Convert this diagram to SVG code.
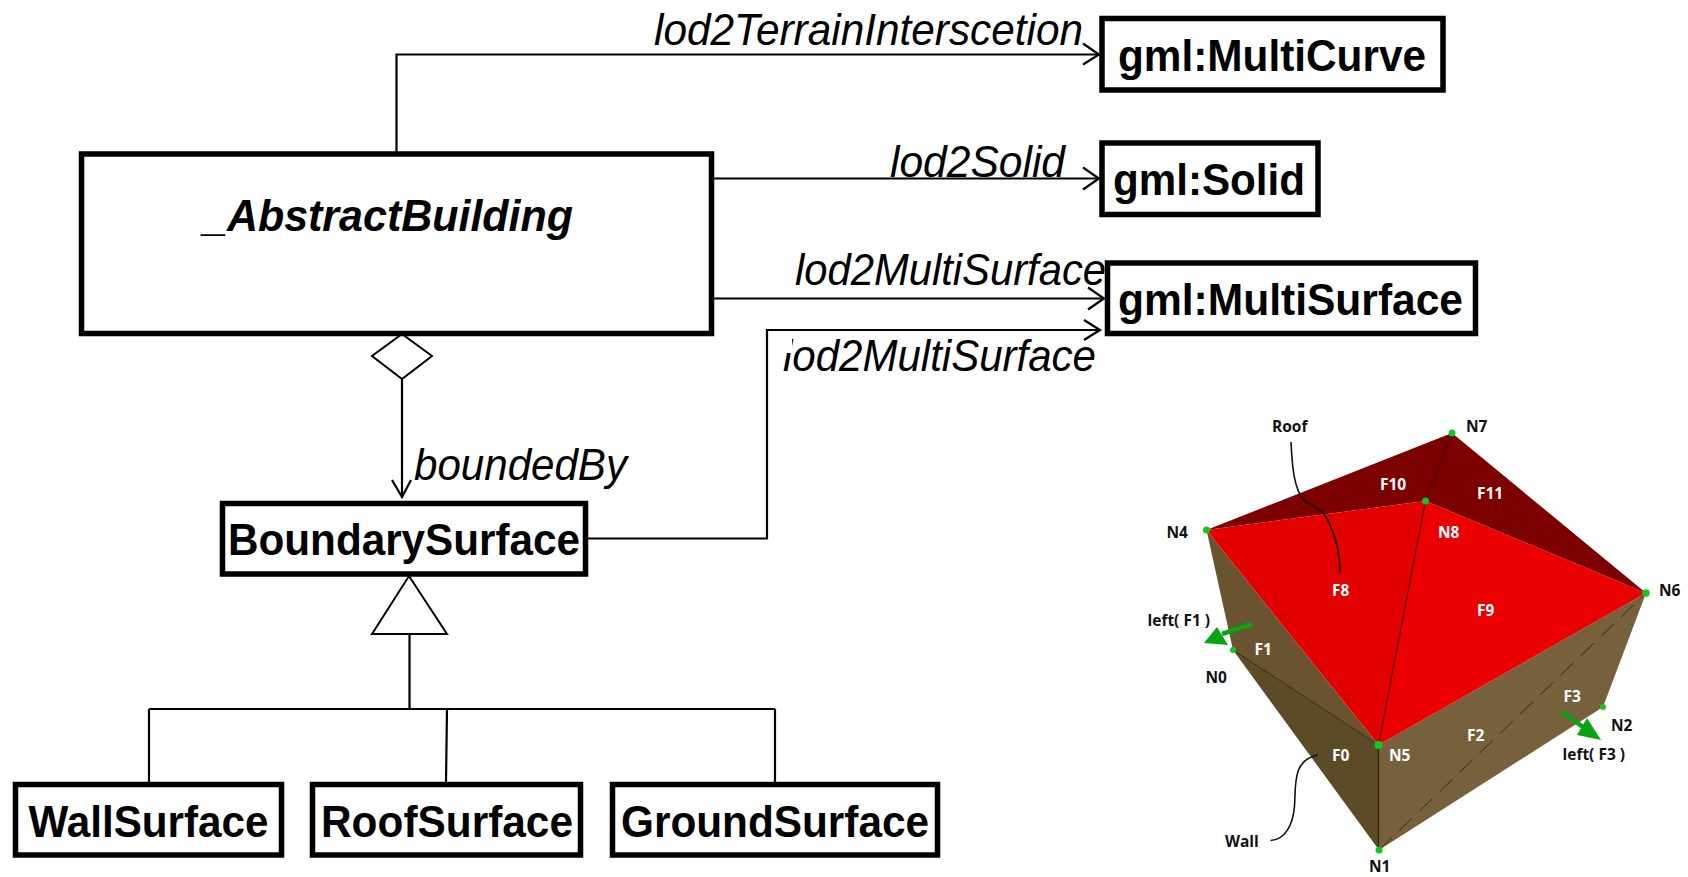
<svg xmlns="http://www.w3.org/2000/svg" width="1688" height="877" viewBox="0 0 1688 877">
<style>
.box{fill:#fff;stroke:#000;stroke-width:5.500}
.c{fill:none;stroke:#000;stroke-width:2.2}
.h{fill:#fff;stroke:#000;stroke-width:2}
.b{font-family:"Liberation Sans",Arial,sans-serif;font-weight:700;font-size:44px;fill:#000}
.i{font-family:"Liberation Sans",Arial,sans-serif;font-style:italic;font-size:44px;fill:#000}
.k{font-family:"Open Sans","Noto Sans",sans-serif;font-weight:700;font-size:15.500px;fill:#111}
.w{font-family:"Open Sans","Noto Sans",sans-serif;font-weight:700;font-size:15.500px;fill:#fff}
.fl{fill:none;stroke:#111;stroke-width:1.6}
.dot{fill:#12c81e}
.g{fill:#0ba313}
</style>
<rect width="1688" height="877" fill="#fff"/>
<g id="connectors">
<path class="c" d="M396.500 154V54.500H1099"/>
<path class="c" d="M1083 43.500L1099 54.500L1083 64.500"/>
<path class="c" d="M711 178.500H1099"/>
<path class="c" d="M1083 167.500L1099 178.500L1083 189.500"/>
<path class="c" d="M711 298.500H1104"/>
<path class="c" d="M1088 287.500L1104 298.500L1088 309.500"/>
<path class="c" d="M587 538.500H767V330H1100"/>
<path class="c" d="M1084 320L1100 330L1084 340"/>
<path class="c" d="M402 378V496"/>
<path class="c" d="M392 480L402 497L411 480"/>
<polygon class="h" points="402,334 432,356 402,379 372,356"/>
<polygon class="h" points="409,576 447,634 372,634"/>
<path class="c" d="M409.500 634V709M149 709H775M149 709V782M447 709L446 782M775 709V782"/>
<text class="i" x="654" y="45" textLength="429" lengthAdjust="spacingAndGlyphs">lod2TerrainInterscetion</text>
<text class="i" x="890" y="177" textLength="175" lengthAdjust="spacingAndGlyphs">lod2Solid</text>
<text class="i" x="795" y="285" textLength="311" lengthAdjust="spacingAndGlyphs">lod2MultiSurface</text>
<text class="i" x="783" y="371" textLength="313" lengthAdjust="spacingAndGlyphs">lod2MultiSurface</text>
<rect x="780" y="335" width="12" height="18" fill="#fff"/>
<text class="i" x="414" y="480" textLength="213" lengthAdjust="spacingAndGlyphs">boundedBy</text>
</g>
<g id="abstract-building"><rect class="box" x="81.500" y="154" width="630" height="179.500"/>
<text class="b" x="203" y="231" font-style="italic" textLength="370" lengthAdjust="spacingAndGlyphs">_AbstractBuilding</text></g>
<g id="gml-multicurve"><rect class="box" x="1102" y="18.500" width="341" height="71.500"/>
<text class="b" x="1118" y="71" textLength="308" lengthAdjust="spacingAndGlyphs">gml:MultiCurve</text></g>
<g id="gml-solid"><rect class="box" x="1102" y="143" width="216" height="71.500"/>
<text class="b" x="1113" y="195" textLength="192" lengthAdjust="spacingAndGlyphs">gml:Solid</text></g>
<g id="gml-multisurface"><rect class="box" x="1107.500" y="263" width="368" height="70.500"/>
<text class="b" x="1118" y="314.500" textLength="345" lengthAdjust="spacingAndGlyphs">gml:MultiSurface</text></g>
<g id="boundary-surface"><rect class="box" x="222.500" y="503.500" width="363" height="70.500"/>
<text class="b" x="228" y="554.500" textLength="352" lengthAdjust="spacingAndGlyphs">BoundarySurface</text></g>
<g id="wall-surface"><rect class="box" x="15.500" y="784.500" width="266" height="70.500"/>
<text class="b" x="28.500" y="836.500" textLength="240" lengthAdjust="spacingAndGlyphs">WallSurface</text></g>
<g id="roof-surface"><rect class="box" x="312.500" y="784.500" width="268" height="70.500"/>
<text class="b" x="321" y="836.500" textLength="252" lengthAdjust="spacingAndGlyphs">RoofSurface</text></g>
<g id="ground-surface"><rect class="box" x="612.500" y="784.500" width="325" height="70.500"/>
<text class="b" x="621" y="836.500" textLength="308" lengthAdjust="spacingAndGlyphs">GroundSurface</text></g>
<g id="building-model">
<polygon fill="#6a5430" points="1206.500,530 1233,650 1378.500,745"/>
<polygon fill="#5d4b27" points="1233,650 1379,850 1378.500,745"/>
<polygon fill="#77603c" points="1378.500,745 1379,850 1603,707 1646,593"/>
<polygon fill="#7d0000" points="1206.500,530 1452,433 1425.500,501"/>
<polygon fill="#7d0000" points="1452,433 1646,593 1425.500,501"/>
<polygon fill="#e30000" points="1206.500,530 1425.500,501 1378.500,745"/>
<polygon fill="#ea0000" points="1425.500,501 1646,593 1378.500,745"/>
<path d="M1233 650L1378.500 745" stroke="#33260f" stroke-width="1" fill="none"/>
<path d="M1378.500 745V850" stroke="#2d2210" stroke-width="1.200" fill="none"/>
<path d="M1425.500 501L1378.500 745M1425.500 501L1452 433" stroke="#4d0000" stroke-width="1.100" fill="none"/>
<path d="M1379 850L1646 593" stroke="#3a2c15" stroke-width="1" stroke-dasharray="18 10" fill="none"/>
<path class="fl" d="M1291 442C1292 465 1294 490 1304 500C1312 508 1322 505 1330 525C1338 542 1340 558 1340 573"/>
<path class="fl" d="M1270.500 840.500C1285 840 1293 825 1294.500 806C1296 785 1292 760 1318 755"/>
<circle class="dot" cx="1206.500" cy="530" r="3.500"/><circle class="dot" cx="1452" cy="433" r="3.500"/><circle class="dot" cx="1425.500" cy="501" r="3.500"/><circle class="dot" cx="1646" cy="593" r="3.800"/><circle class="dot" cx="1378.500" cy="745" r="4"/><circle class="dot" cx="1379" cy="850" r="3.500"/><circle class="dot" cx="1603" cy="707" r="3"/><circle class="dot" cx="1233" cy="650" r="3"/>
<path d="M1252 624L1222 634" stroke="#0ba313" stroke-width="4.500" fill="none"/><polygon class="g" points="1204,643 1217,627 1228,645"/>
<path d="M1561 711L1583 727" stroke="#0ba313" stroke-width="4.500" fill="none"/><polygon class="g" points="1601,740 1587,718 1577,735"/>
<text class="k" x="1272" y="432">Roof</text><text class="k" x="1466" y="432">N7</text><text class="k" x="1166.500" y="537.500">N4</text><text class="k" x="1659" y="596">N6</text>
<text class="k" x="1147.500" y="625.500">left( F1 )</text><text class="k" x="1205.500" y="683">N0</text><text class="k" x="1611" y="731">N2</text><text class="k" x="1562.500" y="760">left( F3 )</text><text class="k" x="1225" y="846.500">Wall</text><text class="k" x="1369" y="872">N1</text>
<text class="w" x="1380" y="489.500">F10</text><text class="w" x="1477" y="498.500">F11</text><text class="w" x="1438" y="537.500">N8</text><text class="w" x="1332" y="596">F8</text><text class="w" x="1477" y="615.500">F9</text><text class="w" x="1254.500" y="654.500">F1</text><text class="w" x="1563.500" y="702">F3</text><text class="w" x="1467" y="741">F2</text><text class="w" x="1332" y="760.500">F0</text><text class="w" x="1389" y="760.500">N5</text>
</g>
</svg>
